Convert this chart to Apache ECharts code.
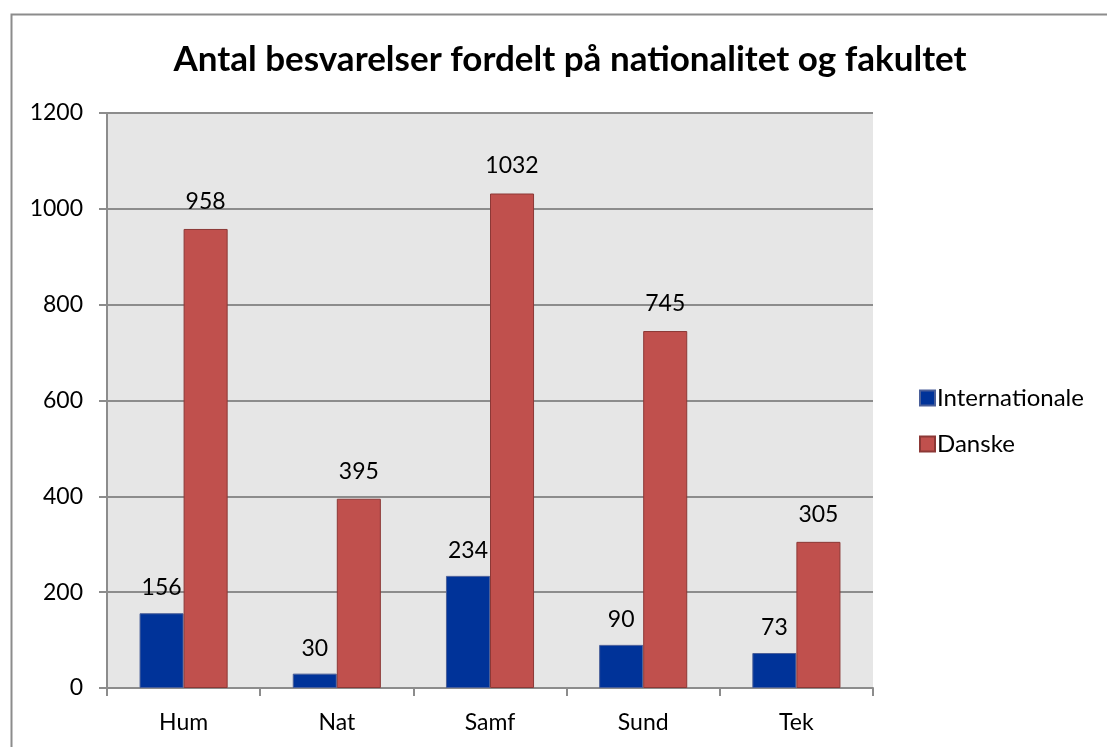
<!DOCTYPE html>
<html>
<head>
<meta charset="utf-8">
<script src="https://cdn.jsdelivr.net/npm/echarts@6/dist/echarts.min.js"></script>
<style>
  html, body { margin: 0; padding: 0; background: #fff; }
  #chart { width: 1107px; height: 747px; }
</style>
</head>
<body>
<div id="chart"></div>
<script>
// Faculties and response counts per nationality
const faculties = ['Hum', 'Nat', 'Samf', 'Sund', 'Tek'];
const internationale = [156, 30, 234, 90, 73];
const danske = [958, 395, 1032, 745, 305];
const yTicks = [0, 200, 400, 600, 800, 1000, 1200];

const FONT = 'Lato, "Open Sans", sans-serif';
const chart = echarts.init(document.getElementById('chart'));

chart.setOption({
  animation: false,
  backgroundColor: '#ffffff',
  title: {
    text: 'Antal besvarelser fordelt på nationalitet og fakultet',
    left: 565,
    top: 37,
    textAlign: 'center',
    textStyle: { fontFamily: FONT, fontWeight: 'bold', fontSize: 35, color: '#000' }
  },
  graphic: [{
    type: 'rect',
    shape: { x: 11.5, y: 14.5, width: 1200, height: 800 },
    style: { fill: null, stroke: '#8c8c8c', lineWidth: 2 },
    silent: true
  }],
  legend: {
    orient: 'vertical',
    left: 914,
    top: 381,
    itemWidth: 15,
    itemHeight: 15,
    itemGap: 22,
    icon: 'rect',
    textStyle: { fontFamily: FONT, fontSize: 24, color: '#000', padding: [0, 0, 0, -3] },
    data: ['Internationale', 'Danske']
  },
  grid: { left: 107, top: 113, width: 766, height: 575, containLabel: false,
          show: true, backgroundColor: '#e6e6e6', borderWidth: 0 },
  xAxis: {
    type: 'category',
    data: faculties,
    axisLine: { show: true, lineStyle: { color: '#8c8c8c', width: 2 } },
    axisTick: { show: true, alignWithLabel: false, length: 8, lineStyle: { color: '#8c8c8c', width: 2 } },
    axisLabel: { fontFamily: FONT, fontSize: 23, color: '#000', margin: 23 }
  },
  yAxis: {
    type: 'value',
    min: 0,
    max: yTicks[yTicks.length - 1],
    interval: yTicks[1] - yTicks[0],
    axisLine: { show: true, lineStyle: { color: '#8c8c8c', width: 2 } },
    axisTick: { show: true, length: 8, lineStyle: { color: '#8c8c8c', width: 2 } },
    axisLabel: { fontFamily: FONT, fontSize: 23, color: '#000', margin: 24, formatter: v => String(v) },
    splitLine: { show: true, lineStyle: { color: '#8c8c8c', width: 2 } }
  },
  series: [
    {
      name: 'Internationale',
      type: 'bar',
      data: internationale,
      barGap: '0%',
      barCategoryGap: '42.5%',
      itemStyle: { color: '#003399', borderColor: '#4a5f99', borderWidth: 1 },
      label: { show: true, position: 'top', distance: 14, fontFamily: FONT, fontSize: 23, color: '#000' }
    },
    {
      name: 'Danske',
      type: 'bar',
      data: danske,
      barGap: '0%',
      barCategoryGap: '42.5%',
      itemStyle: { color: '#c0504d', borderColor: '#8c3836', borderWidth: 1 },
      label: { show: true, position: 'top', distance: 16, fontFamily: FONT, fontSize: 23, color: '#000' }
    }
  ]
});
</script>
</body>
</html>
